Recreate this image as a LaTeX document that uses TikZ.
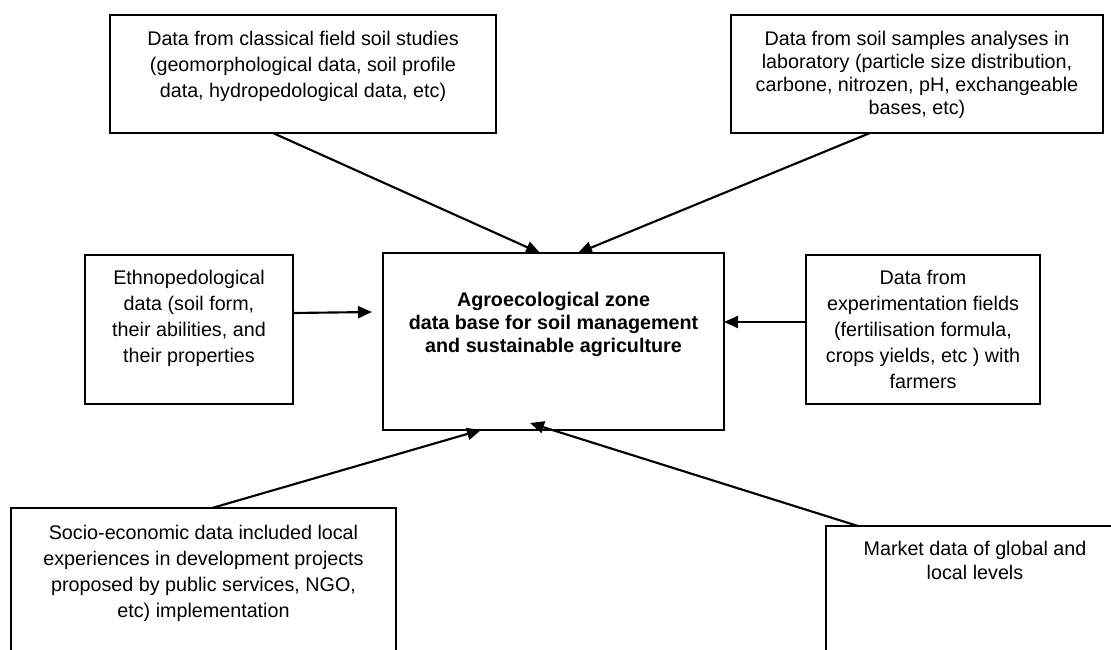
\documentclass[tikz,border=0pt]{standalone}
\usepackage{fontspec}
\setmainfont{Liberation Sans}
\usetikzlibrary{calc,arrows.meta}

\begin{document}
\begin{tikzpicture}[x=0.75pt, y=-0.75pt,
		frame/.style={draw, line width=0.9pt, anchor=north west, inner sep=0pt, outer sep=0pt},
		txt/.style={anchor=north, align=center, inner sep=0pt, font=\fontsize{14.8}{19.5}\selectfont},
		feed/.style={line width=1.6pt, -{Triangle[length=10.5pt, width=9pt]}}]
		%%%%% START %%%%%
		
		\useasboundingbox (0, 0) rectangle (1111, 650);
		\clip (0, 0) rectangle (1111, 650);
		
		\node[frame, minimum width=289.5pt, minimum height=88.5pt] (field) at (110, 15) {};
		\node[txt] (field-txt) at ($(field.north)+(0, 16)$) {Data from classical field soil studies\\(geomorphological data, soil profile\\data, hydropedological data, etc)};
		
		\node[frame, minimum width=279pt, minimum height=88.5pt] (lab) at (731, 15) {};
		\node[txt, font=\fontsize{14.8}{17.25}\selectfont] (lab-txt) at ($(lab.north)+(0, 16)$) {Data from soil samples analyses in\\laboratory (particle size distribution,\\carbone, nitrozen, pH, exchangeable\\bases, etc)};
		
		\node[frame, minimum width=156pt, minimum height=111.75pt] (ethno) at (85, 255) {};
		\node[txt] (ethno-txt) at ($(ethno.north)+(0, 15)$) {Ethnopedological\\data (soil form,\\their abilities, and\\their properties};
		
		\node[frame, minimum width=255.75pt, minimum height=132.75pt] (base) at (383, 253) {};
		\node[txt, font=\fontsize{14.8}{17.25}\selectfont\bfseries] (base-txt) at ($(base.north)+(0, 39)$) {Agroecological zone\\data base for soil management\\and sustainable agriculture};
		
		\node[frame, minimum width=175.5pt, minimum height=111.75pt] (trial) at (806, 255) {};
		\node[txt] (trial-txt) at ($(trial.north)+(0, 15)$) {Data from\\experimentation fields\\(fertilisation formula,\\crops yields, etc ) with\\farmers};
		
		\node[frame, minimum width=288.75pt, minimum height=120pt] (socio) at (11, 508) {};
		\node[txt] (socio-txt) at ($(socio.north)+(0, 17)$) {Socio-economic data included local\\experiences in development projects\\proposed by public services, NGO,\\etc) implementation};
		
		\node[frame, minimum width=223.5pt, minimum height=112.5pt] (market) at (826, 526) {};
		\node[txt, font=\fontsize{14.8}{18}\selectfont] (market-txt) at ($(market.north)+(0, 15)$) {Market data of global and\\local levels};
		
		\draw[feed] ($(field.south)+(-30, 0)$) -- ($(base.north west)+(157, 0)$);
		\draw[feed] ($(lab.south)+(-47, 0)$) -- ($(base.north west)+(195, 0)$);
		\draw[feed] ($(ethno.east)+(0, -16.5)$) -- ($(base.west)+(-11, -29.5)$);
		\draw[feed] ($(trial.west)+(0, -7.5)$) -- ($(base.east)+(0, -19.5)$);
		\draw[feed] ($(socio.north)+(8.5, 0)$) -- ($(base.south west)+(98, 0)$);
		\draw[feed] ($(market.north west)+(32, 0)$) -- ($(base.south west)+(147, -7)$);
		
		%%%%% END %%%%%
	\end{tikzpicture}
\end{document}
